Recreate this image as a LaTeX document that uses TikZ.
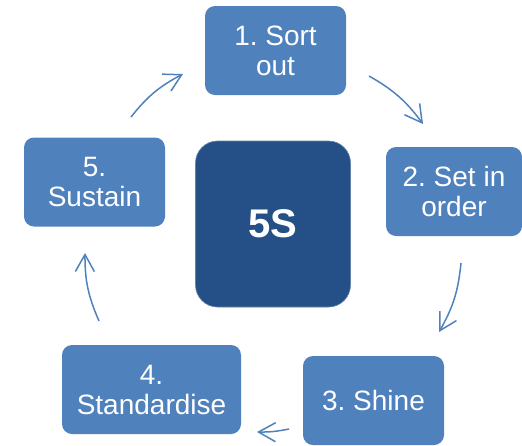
\documentclass[tikz,border=0pt]{standalone}
\usepackage{fontspec}
\setmainfont{Liberation Sans}
\usetikzlibrary{arrows.meta}

\definecolor{stepblue}{HTML}{4F81BD}
\definecolor{coreblue}{HTML}{245087}

\begin{document}
\frenchspacing
\begin{tikzpicture}[
    x=1pt, y=-1pt,
    font=\fontsize{28}{30}\selectfont,
    % --- node styles ---
    sbox/.style = {rectangle, fill=stepblue, text=white,
                   rounded corners=10pt, align=center,
                   minimum width=141pt, minimum height=89pt,
                   inner sep=0pt},
    widebox/.style = {sbox, minimum width=179pt},
    corebox/.style = {rectangle, fill=coreblue, text=white,
                      draw=coreblue!70!white, line width=0.6pt,
                      rounded corners=22pt,
                      minimum width=155pt, minimum height=166pt,
                      font=\fontsize{40}{44}\selectfont\bfseries},
    cycarrow/.style = {-{Straight Barb[length=17pt,width=19pt,line width=1.5pt]},
                       draw=stepblue, line width=1.5pt},
]
\useasboundingbox (0,0) rectangle (522,445);

%============ CENTRE ============
\node (core) [corebox] at (273,224) {5S};

%============ STEPS ============
\node (sort)  [sbox]    at (275.5,50.5) {1. Sort\\out};
\node (order) [sbox, minimum width=136pt] at (454,191.5) {2. Set in\\order};
\node (shine) [sbox]    at (373.5,400.5) {3. Shine};
\node (stand) [widebox] at (151.5,389.5) {4.\\Standardise};
\node (sust)  [sbox]    at (94.5,182) {5.\\Sustain};

%============ ARROW ENDS ============
\coordinate (sust-out)   at (131,117);
\coordinate (sort-in)    at (183,74);
\coordinate (sort-out)   at (369,76);
\coordinate (order-in)   at (423,124);
\coordinate (order-out)  at (461,263);
\coordinate (shine-in)   at (439,332);
\coordinate (shine-out)  at (289,429);
\coordinate (stand-in)   at (257,432);
\coordinate (stand-out)  at (99,321);
\coordinate (sust-in)    at (85,253);

%============ CYCLE ARROWS ============
\foreach \a/\b/\ang in {
  sust/sort/12, sort/order/12, order/shine/12,
  shine/stand/6, stand/sust/12}
  \draw[cycarrow] (\a-out) to[bend left=\ang] (\b-in);

\end{tikzpicture}
\end{document}
